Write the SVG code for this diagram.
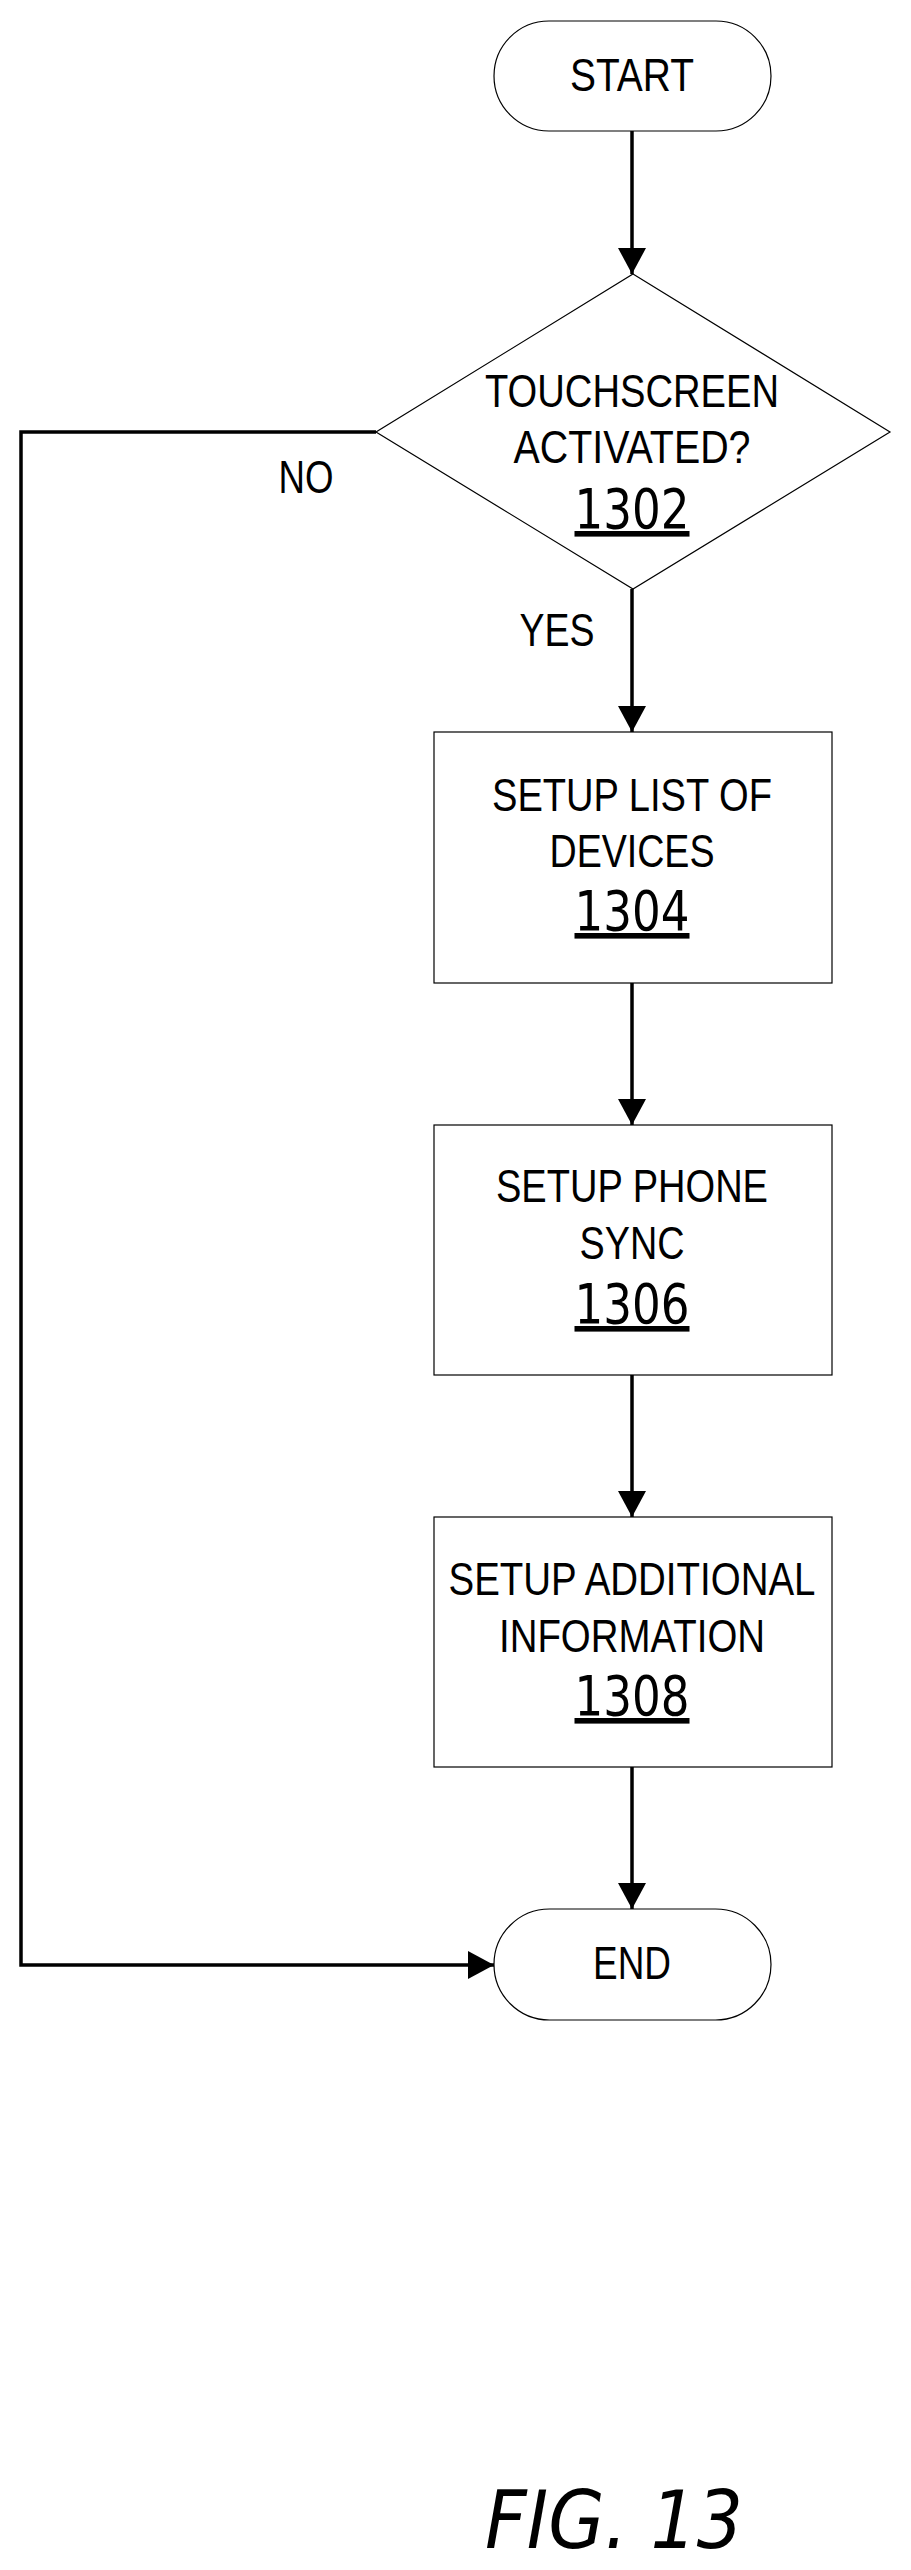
<svg xmlns="http://www.w3.org/2000/svg" width="911" height="2570" viewBox="0 0 911 2570">
<style>
.s{fill:#fff;stroke:#000;stroke-width:1.2}
.t{font-family:"Liberation Sans",Arial,sans-serif;font-size:46px;text-anchor:middle}
.n{font-family:"DejaVu Sans",sans-serif;font-size:56px;text-anchor:middle;text-decoration:underline}
.c{fill:none;stroke:#000;stroke-width:3.5}
</style>
<defs><marker id="b" markerWidth="27" markerHeight="28" refX="26" refY="14" orient="auto" markerUnits="userSpaceOnUse"><path d="M0,0L26,14L0,28z"/></marker></defs>
<g id="connectors">
<path class="c" d="M632,131V274" marker-end="url(#b)"/>
<path class="c" d="M632,589V732" marker-end="url(#b)"/>
<path class="c" d="M632,983V1125" marker-end="url(#b)"/>
<path class="c" d="M632,1375V1517" marker-end="url(#b)"/>
<path class="c" d="M632,1767V1909" marker-end="url(#b)"/>
<path class="c" d="M376,432H21V1965H494" marker-end="url(#b)"/>
<text class="t" x="306" y="493" textLength="55" lengthAdjust="spacingAndGlyphs">NO</text>
<text class="t" x="557" y="646" textLength="75" lengthAdjust="spacingAndGlyphs">YES</text>
</g>
<g id="start"><rect class="s" x="494" y="21" width="277" height="110" rx="55"/><text class="t" x="632" y="91" textLength="124" lengthAdjust="spacingAndGlyphs">START</text></g>
<g id="n1302"><polygon class="s" points="633,274 890,432 633,589 376,432"/><text class="t" x="632" y="407" textLength="294" lengthAdjust="spacingAndGlyphs">TOUCHSCREEN</text><text class="t" x="632" y="463" textLength="237" lengthAdjust="spacingAndGlyphs">ACTIVATED?</text><text class="n" x="632" y="528" textLength="115" lengthAdjust="spacingAndGlyphs">1302</text></g>
<g id="n1304"><rect class="s" x="434" y="732" width="398" height="251"/><text class="t" x="632" y="811" textLength="280" lengthAdjust="spacingAndGlyphs">SETUP LIST OF</text><text class="t" x="632" y="867" textLength="165" lengthAdjust="spacingAndGlyphs">DEVICES</text><text class="n" x="632" y="930" textLength="115" lengthAdjust="spacingAndGlyphs">1304</text></g>
<g id="n1306"><rect class="s" x="434" y="1125" width="398" height="250"/><text class="t" x="632" y="1202" textLength="272" lengthAdjust="spacingAndGlyphs">SETUP PHONE</text><text class="t" x="632" y="1259" textLength="105" lengthAdjust="spacingAndGlyphs">SYNC</text><text class="n" x="632" y="1323" textLength="115" lengthAdjust="spacingAndGlyphs">1306</text></g>
<g id="n1308"><rect class="s" x="434" y="1517" width="398" height="250"/><text class="t" x="632" y="1595" textLength="367" lengthAdjust="spacingAndGlyphs">SETUP ADDITIONAL</text><text class="t" x="632" y="1652" textLength="266" lengthAdjust="spacingAndGlyphs">INFORMATION</text><text class="n" x="632" y="1715" textLength="115" lengthAdjust="spacingAndGlyphs">1308</text></g>
<g id="end"><rect class="s" x="494" y="1909" width="277" height="111" rx="55.5"/><text class="t" x="632" y="1979" textLength="78" lengthAdjust="spacingAndGlyphs">END</text></g>
<text x="614" y="2548" font-family="DejaVu Sans,sans-serif" font-style="italic" font-size="80" text-anchor="middle" textLength="258" lengthAdjust="spacingAndGlyphs">FIG. 13</text>
</svg>
